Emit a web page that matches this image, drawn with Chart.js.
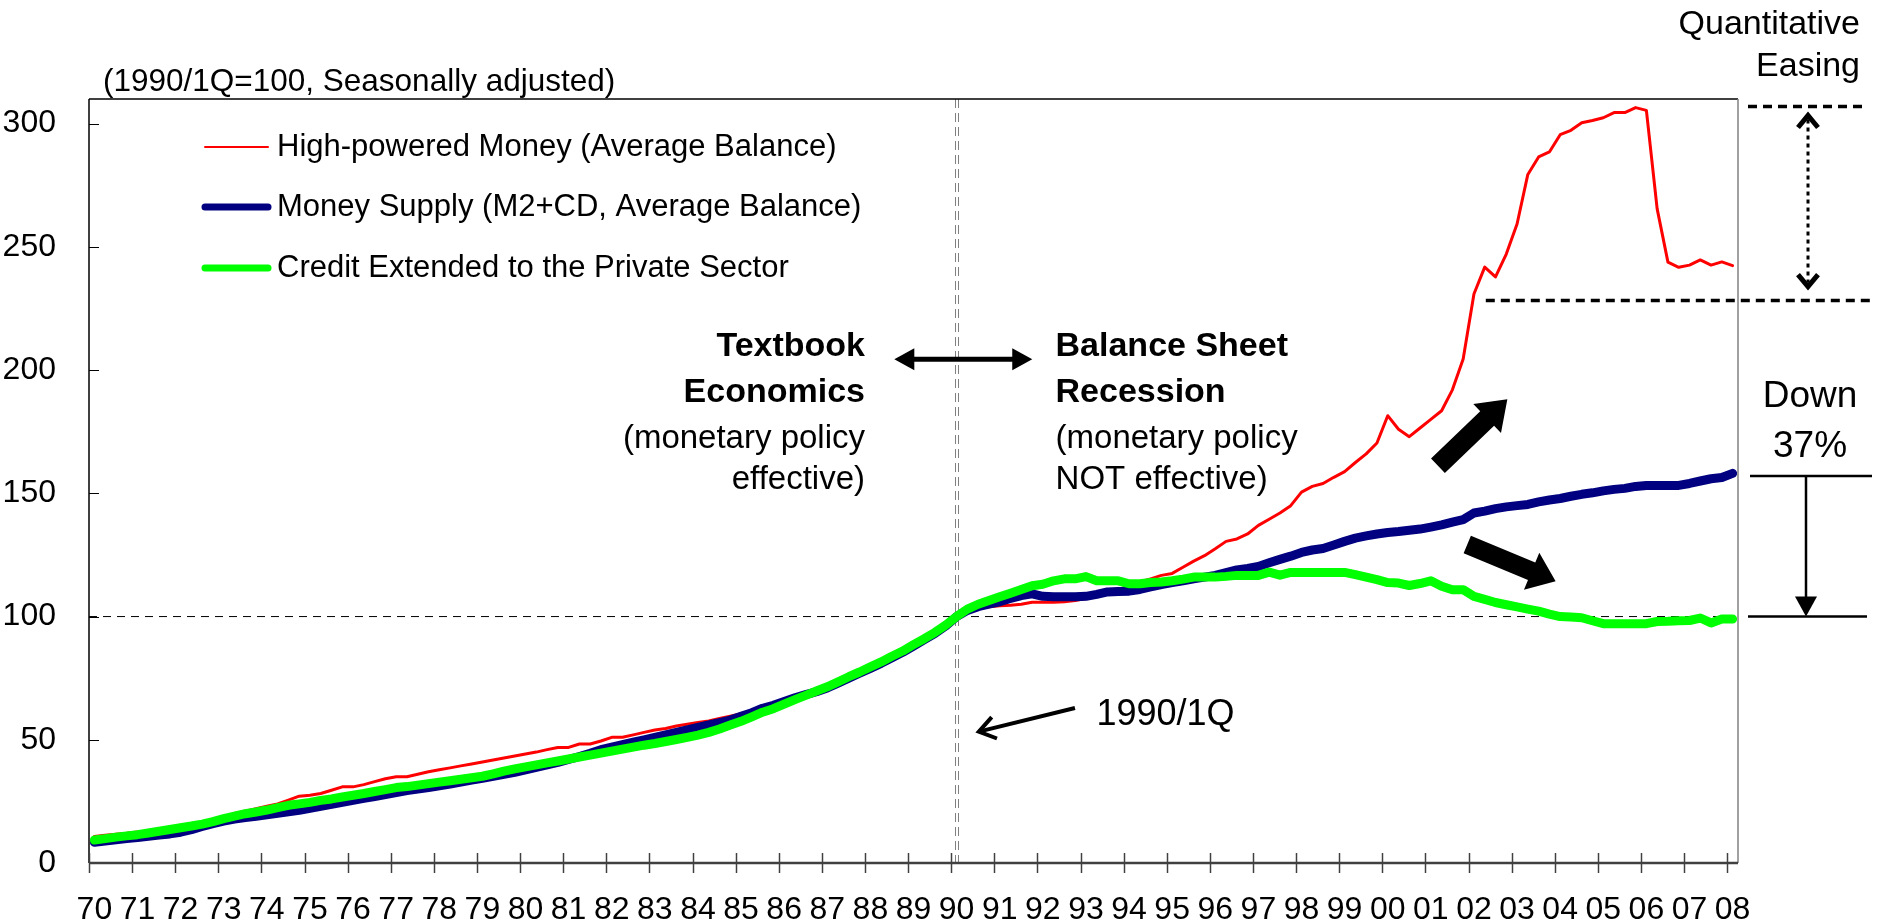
<!DOCTYPE html>
<html>
<head>
<meta charset="utf-8">
<script src="https://cdn.jsdelivr.net/npm/chart.js@4.4.0/dist/chart.umd.min.js"></script>
<style>
  html, body { margin: 0; padding: 0; background: #fff; }
  canvas { display: block; }
</style>
</head>
<body>
<canvas id="myChart" width="1878" height="923"></canvas>
<script>
// quarterly series, 1970/1Q .. 2008/1Q, 1990/1Q = 100
let hpm = [
  10.8, 11.3, 11.7, 12.1,   12.6, 13.0, 13.4, 14.0,   14.3, 14.6, 15.5, 16.8,   18.3, 20.1, 21.0, 22.0,
  23.0, 24.0, 25.5, 27.1,   27.5, 28.2, 29.5, 30.9,   30.9, 31.8, 33.0, 34.2,   35.0, 35.0, 36.0, 37.0,
  37.8, 38.6, 39.4, 40.2,   41.0, 41.8, 42.6, 43.4,   44.2, 45.0, 46.0, 46.9,   46.9, 48.3, 48.3, 49.5,
  51.0, 51.0, 52.0, 53.0,   54.0, 54.6, 55.6, 56.3,   57.0, 57.6, 58.6, 59.6,   60.6, 61.8, 63.2, 64.4,
  65.8, 67.2, 68.6, 70.0,   71.5, 73.2, 75.2, 77.0,   79.0, 81.2, 83.4, 85.6,   88.0, 90.5, 93.2, 96.2,
  100, 102, 103.5, 104,     104.4, 104.6, 105, 105.8, 105.8, 105.8, 106, 106.5, 107.3, 109, 110, 111,
  112.3, 114, 115.3, 116.7, 117.5, 120, 122.5, 124.7, 127.5, 130.5, 131.5, 133.5, 137, 139.5, 142, 145,
  150.5, 152.8, 154, 156.5, 158.8, 162.5, 166, 170.4, 181.5, 176, 173, 176.5,   180, 183.5, 192, 204.5,
  230.9, 241.8, 237.8, 247.1, 259.3, 279.4, 286.5, 288.5, 295.5, 297.3, 300.4, 301.3, 302.4, 304.5, 304.5, 306.5,
  305.4, 265.4, 243.8, 241.7, 242.6, 244.7, 242.6, 243.9, 242.4
];
let m2cd = [
  8.4, 8.9, 9.4, 9.9,       10.3, 10.8, 11.3, 11.8,   12.5, 13.5, 14.8, 16.0,   17.0, 17.8, 18.4, 19.0,
  19.6, 20.2, 20.8, 21.4,   22.2, 23.0, 23.8, 24.6,   25.4, 26.2, 27.0, 27.8,   28.6, 29.4, 30.0, 30.6,
  31.3, 32.0, 32.8, 33.6,   34.4, 35.2, 36.0, 36.8,   37.8, 38.8, 39.8, 40.8,   42.0, 43.2, 44.5, 46.0,
  47.0, 48.0, 49.0, 50.0,   51.0, 52.0, 53.0, 54.0,   55.0, 56.0, 57.0, 58.0,   59.5, 61.0, 62.8, 64.0,
  65.5, 67.0, 68.3, 69.5,   71.0, 73.0, 75.0, 77.0,   79.0, 81.0, 83.3, 85.5,   88.0, 90.6, 93.2, 96.2,
  100, 102.5, 104, 105,     106, 107.3, 108.5, 109.2, 108.2, 108, 108, 108,     108.2, 109, 110, 110.2,
  110.3, 111, 112, 113,     113.8, 114.5, 115.3, 116, 116.7, 117.8, 118.9, 119.5, 120.3, 121.8, 123.2, 124.5,
  126, 127, 127.6, 129,     130.5, 131.8, 132.7, 133.5, 134.1, 134.5, 135, 135.5, 136.3, 137.2, 138.3, 139.3,
  142, 142.8, 143.8, 144.5, 145, 145.5, 146.5, 147.3, 147.9, 148.8, 149.6, 150.2, 151, 151.6, 152, 152.8,
  153.2, 153.2, 153.2, 153.2, 154, 155, 155.9, 156.4, 158.1
];
let credit = [
  9.3, 9.9, 10.5, 11.0,     11.5, 12.2, 12.9, 13.6,   14.3, 15.0, 15.8, 16.8,   18.0, 19.0, 20.0, 20.7,
  21.5, 22.5, 23.4, 24.0,   24.6, 25.4, 26.0, 26.8,   27.5, 28.2, 29.0, 29.8,   30.6, 31.0, 31.6, 32.2,
  32.8, 33.4, 34.0, 34.6,   35.2, 36.2, 37.3, 38.2,   39.0, 39.8, 40.6, 41.4,   42.2, 43.0, 43.8, 44.6,
  45.4, 46.2, 47.0, 47.8,   48.5, 49.3, 50.1, 51.0,   51.9, 53.0, 54.4, 56.0,   57.5, 59.3, 61.2, 62.6,
  64.5, 66.3, 68.0, 69.8,   71.5, 73.5, 75.6, 77.5,   79.6, 81.6, 83.9, 86.0,   88.6, 91.0, 93.6, 96.6,
  100, 103, 105, 106.5,     108, 109.5, 111, 112.5,   113.1, 114.5, 115.3, 115.3, 116.2, 114.5, 114.5, 114.5,
  113.3, 113.3, 113.8, 114, 114.5, 115.2, 116, 116,   116, 116.3, 116.7, 116.7, 116.7, 118, 116.8, 117.9,
  117.9, 117.9, 117.9, 117.9, 117.9, 117, 116, 115,   113.8, 113.6, 112.6, 113.4, 114.5, 112.3, 110.9, 110.9,
  108.2, 107, 105.7, 104.8, 103.9, 103, 102.2, 101,   100, 99.8, 99.5, 98.3,     97.1, 97.1, 97.1, 97.1,
  97.1, 98, 98.1, 98.3,     98.4, 99.4, 97.4, 99,     99
];

let seriesNames = [
  'High-powered Money (Average Balance)',
  'Money Supply (M2+CD, Average Balance)',
  'Credit Extended to the Private Sector'
];
let xLabels = ['70','71','72','73','74','75','76','77','78','79','80','81','82','83','84','85','86','87','88','89',
               '90','91','92','93','94','95','96','97','98','99','00','01','02','03','04','05','06','07','08'];
let yTicks = [0, 50, 100, 150, 200, 250, 300];

// 1970/1Q .. 2008/1Q, each quarter sits in the middle of its slot
let quarters = [];
for (let i = 0; i < hpm.length; i++) {
    quarters.push(1970 + Math.floor(i / 4) + ((i % 4) + 0.5) / 4);
}
let yearTicks = xLabels.map((e, i) => 1970 + i);

const FONT = "'Liberation Sans', Arial, sans-serif";

function toPoints(values) {
    return values.map((v, i) => ({ x: quarters[i], y: v }));
}

function line(ctx, x1, y1, x2, y2) {
    ctx.beginPath();
    ctx.moveTo(x1, y1);
    ctx.lineTo(x2, y2);
    ctx.stroke();
}

// filled block arrow from (x1,y1) to tip (x2,y2)
function blockArrow(ctx, x1, y1, x2, y2, shaft, head, headLen) {
    let ang = Math.atan2(y2 - y1, x2 - x1);
    let len = Math.hypot(x2 - x1, y2 - y1);
    ctx.save();
    ctx.translate(x1, y1);
    ctx.rotate(ang);
    ctx.beginPath();
    ctx.moveTo(0, -shaft / 2);
    ctx.lineTo(len - headLen, -shaft / 2);
    ctx.lineTo(len - headLen, -head / 2);
    ctx.lineTo(len, 0);
    ctx.lineTo(len - headLen, head / 2);
    ctx.lineTo(len - headLen, shaft / 2);
    ctx.lineTo(0, shaft / 2);
    ctx.closePath();
    ctx.fill();
    ctx.restore();
}

function filledHead(ctx, x, y, ang, len, half) {
    ctx.save();
    ctx.translate(x, y);
    ctx.rotate(ang);
    ctx.beginPath();
    ctx.moveTo(0, 0);
    ctx.lineTo(-len, -half);
    ctx.lineTo(-len, half);
    ctx.closePath();
    ctx.fill();
    ctx.restore();
}

function openHead(ctx, x, y, ang, len, half) {
    ctx.save();
    ctx.translate(x, y);
    ctx.rotate(ang);
    ctx.beginPath();
    ctx.moveTo(-len, -half);
    ctx.lineTo(0, 0);
    ctx.lineTo(-len, half);
    ctx.stroke();
    ctx.restore();
}

const decorations = {
    id: 'decorations',
    beforeDatasetsDraw(chart) {
        const { ctx, chartArea: a, scales: { x, y } } = chart;
        ctx.save();
        // 1990/1Q = 100 guide
        ctx.strokeStyle = '#000';
        ctx.lineWidth = 1;
        ctx.setLineDash([8, 6]);
        line(ctx, a.left, y.getPixelForValue(100), a.right, y.getPixelForValue(100));
        // 1990/1Q vertical
        ctx.strokeStyle = '#808080';
        ctx.setLineDash([9, 5]);
        let vx = Math.round(x.getPixelForValue(quarters[80]));
        line(ctx, vx - 1.5, a.top, vx - 1.5, a.bottom);
        line(ctx, vx + 1.5, a.top, vx + 1.5, a.bottom);
        ctx.restore();
    },
    afterDatasetsDraw(chart) {
        const { ctx, chartArea: a, scales: { x, y } } = chart;
        const px = v => x.getPixelForValue(v);
        const py = v => y.getPixelForValue(v);
        ctx.save();

        // frame
        ctx.lineWidth = 1.5;
        ctx.strokeStyle = '#000';
        line(ctx, a.left, a.top, a.right, a.top);
        line(ctx, a.left, a.top, a.left, a.bottom);
        ctx.strokeStyle = '#808080';
        line(ctx, a.right, a.top, a.right, a.bottom);
        ctx.strokeStyle = '#404040';
        ctx.lineWidth = 2.5;
        line(ctx, a.left, a.bottom, a.right, a.bottom);
        ctx.lineWidth = 1.5;
        yearTicks.forEach(t => {
            let tx = Math.round(px(t)) + 0.5;
            line(ctx, tx, a.bottom - 10, tx, a.bottom + 10);
        });
        ctx.strokeStyle = '#000';
        ctx.lineWidth = 1;
        yTicks.forEach(t => {
            if (t === 0) return;
            let ty = Math.round(py(t)) + 0.5;
            line(ctx, a.left, ty, a.left + 10, ty);
        });

        // unit note
        ctx.fillStyle = '#000';
        ctx.textBaseline = 'middle';
        ctx.textAlign = 'left';
        ctx.font = '31.5px ' + FONT;
        ctx.fillText('(1990/1Q=100, Seasonally adjusted)', a.left + 14, 82);

        // legend
        ctx.font = '31px ' + FONT;
        const ds = chart.data.datasets;
        [48, 108, 169].forEach((dy, i) => {
            let ly = a.top + dy;
            ctx.strokeStyle = ds[i].borderColor;
            ctx.lineWidth = i === 0 ? 2 : 7;
            ctx.lineCap = 'round';
            line(ctx, a.left + 116, ly, a.left + 179, ly);
            ctx.fillText(seriesNames[i], a.left + 188, ly);
        });
        ctx.lineCap = 'butt';

        // Textbook / Balance Sheet Recession
        let rows = [209.5, 191, 172, 155.5].map(py);
        ctx.textAlign = 'right';
        ctx.font = 'bold 34px ' + FONT;
        ctx.fillText('Textbook', px(1988.0), rows[0]);
        ctx.fillText('Economics', px(1988.0), rows[1]);
        ctx.font = '33px ' + FONT;
        ctx.fillText('(monetary policy', px(1988.0), rows[2]);
        ctx.fillText('effective)', px(1988.0), rows[3]);
        ctx.textAlign = 'left';
        ctx.font = 'bold 34px ' + FONT;
        ctx.fillText('Balance Sheet', px(1992.42), rows[0]);
        ctx.fillText('Recession', px(1992.42), rows[1]);
        ctx.font = '33px ' + FONT;
        ctx.fillText('(monetary policy', px(1992.42), rows[2]);
        ctx.fillText('NOT effective)', px(1992.42), rows[3]);

        // double arrow between the two regimes
        let ay = py(204.4), ax1 = px(1988.68), ax2 = px(1991.88);
        ctx.strokeStyle = '#000';
        ctx.lineWidth = 5;
        line(ctx, ax1 + 15, ay, ax2 - 15, ay);
        filledHead(ctx, ax1, ay, Math.PI, 20, 11);
        filledHead(ctx, ax2, ay, 0, 20, 11);

        // 1990/1Q pointer
        ctx.font = '36px ' + FONT;
        ctx.fillText('1990/1Q', px(1993.37), py(60));
        let tx1 = px(1992.87), ty1 = py(62.9), tx2 = px(1990.64), ty2 = py(53.3);
        ctx.lineWidth = 4;
        line(ctx, tx1, ty1, tx2, ty2);
        openHead(ctx, tx2, ty2, Math.atan2(ty2 - ty1, tx2 - tx1), 16, 11);

        // block arrows
        blockArrow(ctx, px(2001.29), py(161.2), px(2002.9), py(188.2), 20, 40, 28);
        blockArrow(ctx, px(2001.97), py(129.2), px(2004.02), py(114.3), 19, 40, 26);

        // Quantitative Easing bracket
        ctx.textAlign = 'right';
        ctx.font = '34px ' + FONT;
        ctx.fillText('Quantitative', a.right + 122, 25);
        ctx.fillText('Easing', a.right + 122, 67);
        ctx.lineWidth = 3.5;
        ctx.setLineDash([9, 6]);
        line(ctx, a.right + 10, py(307), a.right + 127, py(307));
        line(ctx, px(2002.4), py(228.2), a.right + 132, py(228.2));
        ctx.setLineDash([4, 4]);
        ctx.lineWidth = 3;
        let qx = a.right + 70;
        line(ctx, qx, py(303.3) + 4, qx, py(233.9) - 4);
        ctx.setLineDash([]);
        ctx.lineWidth = 5;
        openHead(ctx, qx, py(303.3), -Math.PI / 2, 12, 10);
        openHead(ctx, qx, py(233.9), Math.PI / 2, 12, 10);

        // Down 37%
        ctx.lineWidth = 2.5;
        line(ctx, a.right + 12, py(157), a.right + 134, py(157));
        line(ctx, a.right + 10, py(100), a.right + 129, py(100));
        let dx = a.right + 68;
        line(ctx, dx, py(157), dx, py(100) - 18);
        filledHead(ctx, dx, py(100), Math.PI / 2, 20, 11);
        ctx.textAlign = 'center';
        ctx.font = '37px ' + FONT;
        ctx.fillText('Down', a.right + 72, py(189));
        ctx.fillText('37%', a.right + 72, py(169));

        ctx.restore();
    }
};

new Chart(document.getElementById('myChart'), {
    type: 'line',
    data: {
        datasets: [{
            label: seriesNames[0],
            data: toPoints(hpm),
            borderColor: '#ff0000',
            borderWidth: 3,
            order: 3
        }, {
            label: seriesNames[1],
            data: toPoints(m2cd),
            borderColor: '#000080',
            borderWidth: 9,
            order: 2
        }, {
            label: seriesNames[2],
            data: toPoints(credit),
            borderColor: '#00ff00',
            borderWidth: 9,
            order: 1
        }]
    },
    options: {
        responsive: false,
        devicePixelRatio: 1,
        animation: false,
        layout: { padding: { top: 99, right: 140, left: 0, bottom: 0 } },
        elements: {
            point: { radius: 0 },
            line: { tension: 0, borderJoinStyle: 'round', borderCapStyle: 'round', fill: false }
        },
        plugins: {
            legend: { display: false },
            tooltip: { enabled: false }
        },
        scales: {
            x: {
                type: 'linear',
                min: 1970,
                max: 2008.25,
                grid: { display: false },
                border: { display: false },
                // labels sit on the first-quarter slot of each year
                afterBuildTicks: s => { s.ticks = yearTicks.map(v => ({ value: v + 0.125 })); },
                afterFit: s => { s.height = 60; },
                ticks: {
                    autoSkip: false,
                    maxRotation: 0,
                    padding: 20,
                    color: '#000',
                    font: { family: FONT, size: 32 },
                    callback: (v, i) => xLabels[i]
                }
            },
            y: {
                min: 0,
                max: 310,
                grid: { display: false },
                border: { display: false },
                afterBuildTicks: s => { s.ticks = yTicks.map(v => ({ value: v })); },
                afterFit: s => { s.width = 89; },
                ticks: {
                    padding: 25,
                    color: '#000',
                    font: { family: FONT, size: 32 }
                }
            }
        }
    },
    plugins: [decorations]
});
</script>
</body>
</html>
